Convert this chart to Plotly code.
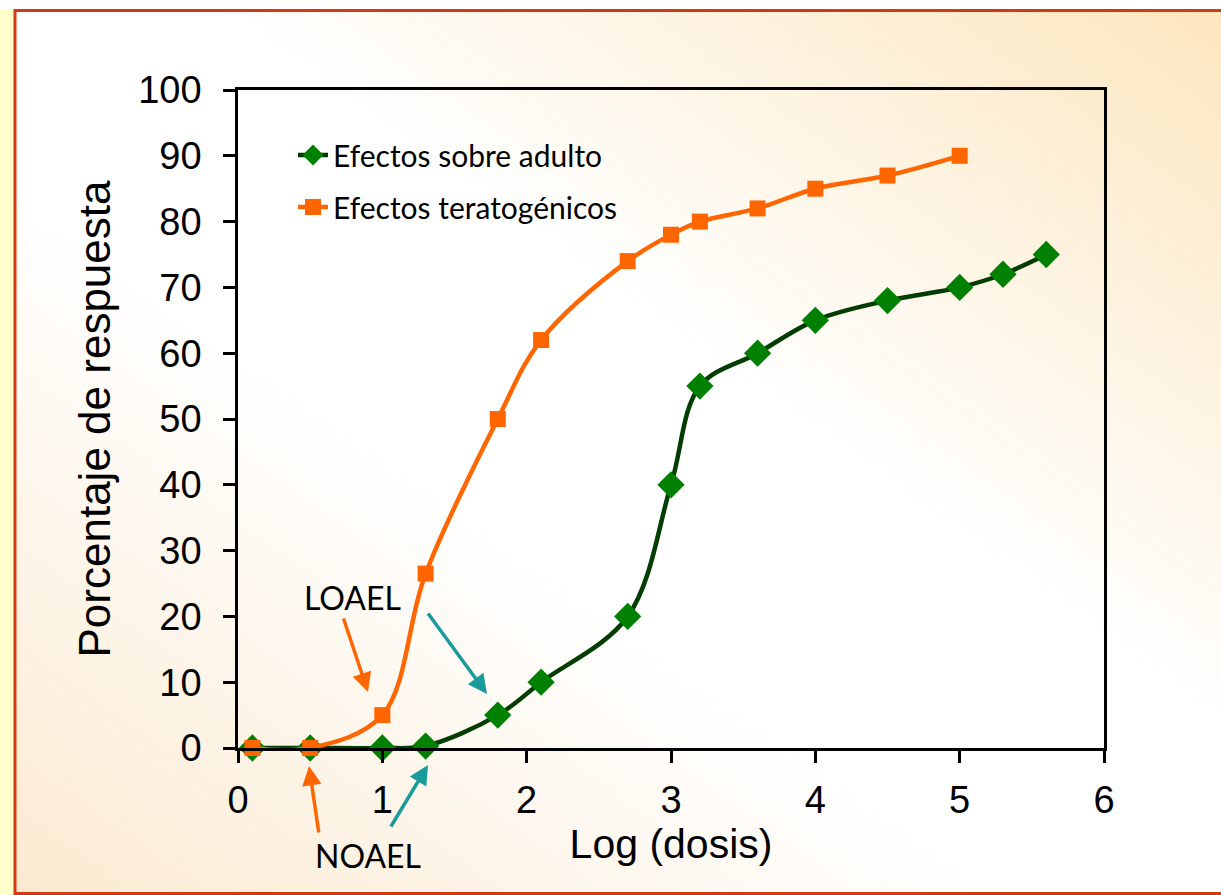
import base64
import plotly.graph_objects as go

# ---- data ----
log_dosis = [0.1, 0.5, 1.0, 1.3, 1.8, 2.1, 2.7, 3.0, 3.2, 3.6, 4.0, 4.5, 5.0, 5.3, 5.6]
adulto = [0, 0, 0, 0.3, 5, 10, 20, 40, 55, 60, 65, 68, 70, 72, 75]

log_dosis_t = [0.1, 0.5, 1.0, 1.3, 1.8, 2.1, 2.7, 3.0, 3.2, 3.6, 4.0, 4.5, 5.0]
terato = [0, 0, 5, 26.5, 50, 62, 74, 78, 80, 82, 85, 87, 90]

x_ticks = [0, 1, 2, 3, 4, 5, 6]
y_ticks = [0, 10, 20, 30, 40, 50, 60, 70, 80, 90, 100]

name_adulto = "Efectos sobre adulto"
name_terato = "Efectos teratogénicos"
x_title = "Log (dosis)"
y_title = "Porcentaje de respuesta"

# ---- layout geometry ----
W, H = 1221, 895
L, R, T, B = 238, 117, 90, 147
PW, PH = W - L - R, H - T - B


def px_x(p):
    return (p - L) / PW


def px_y(p):
    return (H - B - p) / PH


# ---- background (gradient slide) ----
svg = f"""<svg xmlns='http://www.w3.org/2000/svg' width='{W}' height='{H}' viewBox='0 0 {W} {H}' preserveAspectRatio='none'>
<defs><linearGradient id='g' x1='1' y1='0' x2='0' y2='1'>
<stop offset='0' stop-color='#FCE5BC'/>
<stop offset='0.42' stop-color='#FFFFFF'/>
<stop offset='0.6' stop-color='#FFFFFF'/>
<stop offset='1' stop-color='#FBEAD1'/>
</linearGradient></defs>
<rect x='0' y='0' width='{W}' height='{H}' fill='#FFFFFF'/>
<rect x='0' y='9' width='15' height='{H}' fill='#FFFFCC'/>
<rect x='15' y='10.5' width='{W + 20}' height='{H - 12}' fill='url(#g)' stroke='#D13A10' stroke-width='3'/>
</svg>"""
src = "data:image/svg+xml;base64," + base64.b64encode(svg.encode("utf-8")).decode("ascii")

fig = go.Figure()

fig.add_trace(go.Scatter(
    x=log_dosis, y=adulto, name=name_adulto, mode="lines+markers",
    line=dict(color="#033D03", width=4.5, shape="spline", smoothing=1.0),
    marker=dict(symbol="diamond", size=21, color="#008000"),
    cliponaxis=False, legend="legend",
))
fig.add_trace(go.Scatter(
    x=log_dosis_t, y=terato, name=name_terato, mode="lines+markers",
    line=dict(color="#FF6600", width=4.5, shape="spline", smoothing=1.0),
    marker=dict(symbol="square", size=16, color="#FF6600"),
    cliponaxis=False, legend="legend2",
))

axis_font = dict(family="Liberation Sans, Arial, sans-serif", size=38, color="black")
comic = "Comic Sans MS, Lato, sans-serif"

fig.update_xaxes(
    range=[0, 6], tickvals=x_ticks, ticktext=[str(v) for v in x_ticks],
    showline=True, linecolor="black", linewidth=2.5, mirror=True,
    ticks="outside", ticklen=12, tickwidth=2.5, tickcolor="black",
    showgrid=False, zeroline=False, tickfont=axis_font, ticklabelstandoff=5,
    title=dict(text=x_title, font=dict(family=axis_font["family"], size=41, color="black"), standoff=0),
)
fig.update_yaxes(
    range=[0, 100], tickvals=y_ticks, ticktext=[str(v) for v in y_ticks],
    showline=True, linecolor="black", linewidth=2.5, mirror=True,
    ticks="outside", ticklen=12, tickwidth=2.5, tickcolor="black",
    showgrid=False, zeroline=False, tickfont=axis_font, ticklabelstandoff=14,
    title=dict(text=y_title, font=dict(family=axis_font["family"], size=44, color="black"), standoff=14),
)

teal = "#1A9B9B"
orange = "#FF6600"
annotations = [
    dict(x=px_x(352), y=px_y(597), xref="paper", yref="paper", text="LOAEL",
         xanchor="center", yanchor="middle",
         showarrow=False, font=dict(family=comic, size=32, color="black")),
    dict(x=px_x(368), y=px_y(855), xref="paper", yref="paper", text="NOAEL",
         xanchor="center", yanchor="middle",
         showarrow=False, font=dict(family=comic, size=32, color="black")),
    # arrows
    dict(x=px_x(368), y=px_y(692), xref="paper", yref="paper", text="", showarrow=True,
         ax=-25, ay=-75, arrowhead=2, arrowsize=1.1, arrowwidth=3.5, arrowcolor=orange),
    dict(x=px_x(487), y=px_y(694), xref="paper", yref="paper", text="", showarrow=True,
         ax=-60, ay=-82, arrowhead=2, arrowsize=1.1, arrowwidth=3.5, arrowcolor=teal),
    dict(x=px_x(309), y=px_y(766), xref="paper", yref="paper", text="", showarrow=True,
         ax=10, ay=68, arrowhead=2, arrowsize=1.1, arrowwidth=3.5, arrowcolor=orange),
    dict(x=px_x(428), y=px_y(765), xref="paper", yref="paper", text="", showarrow=True,
         ax=-38, ay=63, arrowhead=2, arrowsize=1.1, arrowwidth=3.5, arrowcolor=teal),
]

legend_font = dict(family=comic, size=30, color="black")
fig.update_layout(
    width=W, height=H,
    margin=dict(l=L, r=R, t=T, b=B, autoexpand=False),
    paper_bgcolor="white", plot_bgcolor="rgba(0,0,0,0)",
    images=[dict(source=src, xref="paper", yref="paper", x=px_x(0), y=px_y(0),
                 sizex=W / PW, sizey=H / PH, xanchor="left", yanchor="top",
                 sizing="stretch", layer="below")],
    legend=dict(x=px_x(293), y=px_y(155), xanchor="left", yanchor="middle",
                bgcolor="rgba(0,0,0,0)", font=legend_font),
    legend2=dict(x=px_x(293), y=px_y(207), xanchor="left", yanchor="middle",
                 bgcolor="rgba(0,0,0,0)", font=legend_font),
    annotations=annotations,
    showlegend=True,
)

fig.write_html("out.html")
